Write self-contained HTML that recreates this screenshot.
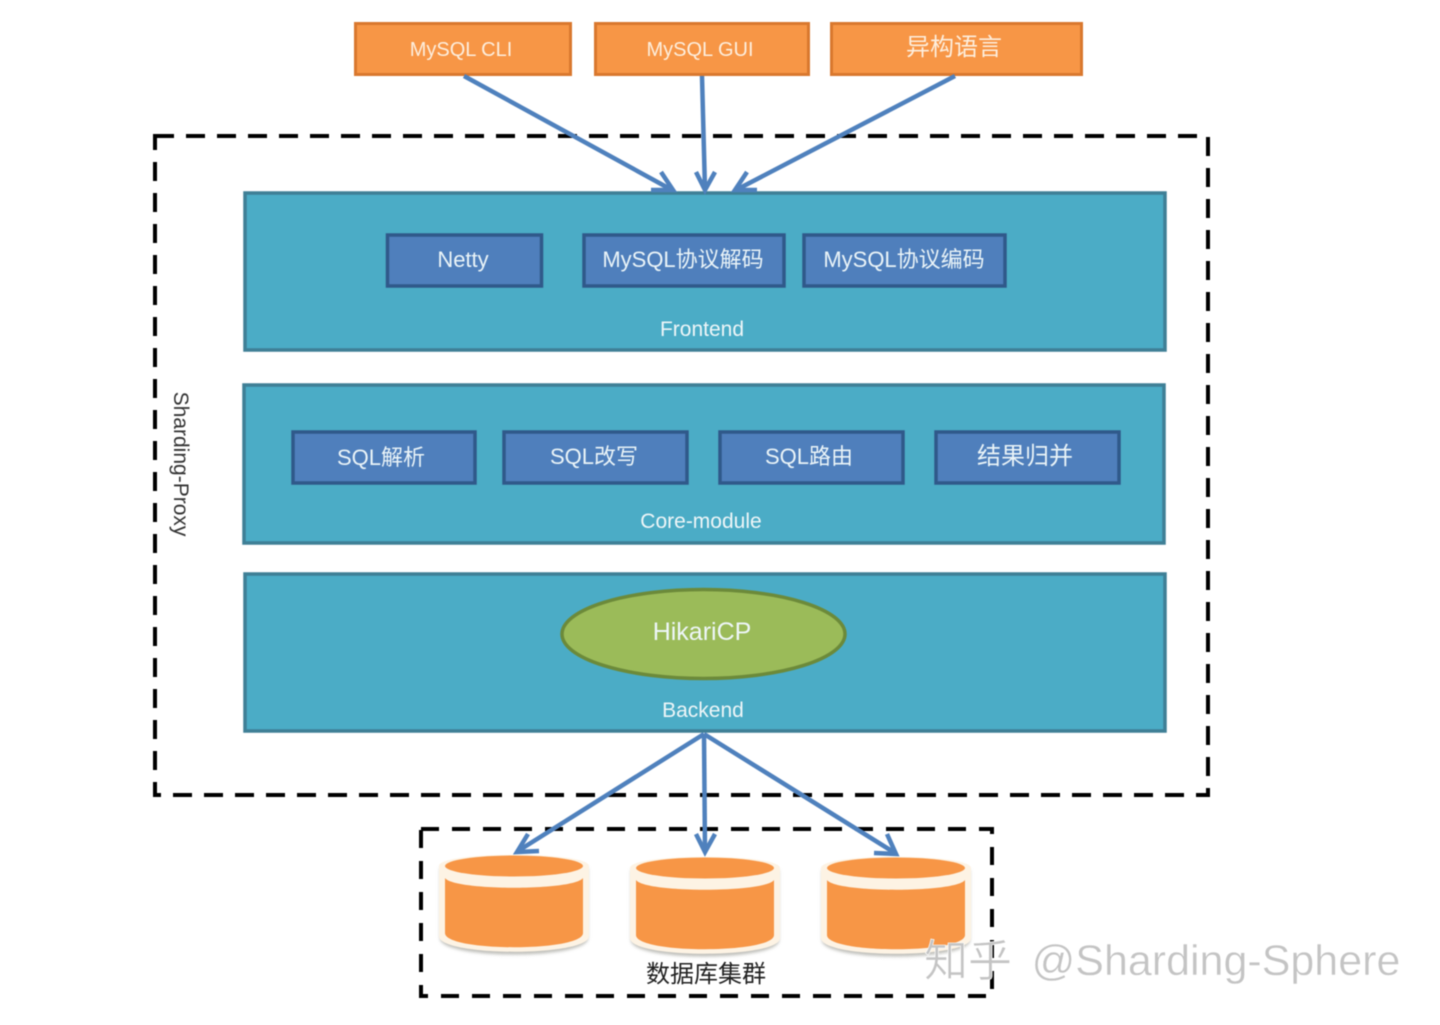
<!DOCTYPE html>
<html>
<head>
<meta charset="utf-8">
<style>
html,body{margin:0;padding:0;background:#fff;width:1440px;height:1025px;overflow:hidden}
svg{display:block;filter:blur(0.5px)}
text{font-family:"Liberation Sans","Noto Sans CJK SC",sans-serif;text-anchor:middle}
.w{fill:#eef6f8;font-size:22px}
.o{fill:#fdeedd;font-size:22px}
.b{fill:#eaf4f8;font-size:22px}
</style>
</head>
<body>
<svg width="1440" height="1025" viewBox="0 0 1440 1025" xmlns="http://www.w3.org/2000/svg">
<defs>
<filter id="sh" x="-10%" y="-10%" width="120%" height="125%"><feGaussianBlur stdDeviation="1.500"/></filter>
<g id="cyl">
  <path d="M-74 -32 V38 C-74 60 74 60 74 38 V-32 Z" fill="#bdbdb8" filter="url(#sh)" transform="translate(0,2)"/>
  <path d="M-75 -32 V38 C-75 59 75 59 75 38 V-32 C75 -47 -75 -47 -75 -32 Z" fill="#fdf3e4"/>
  <path d="M-69 -20 C-60 -7 60 -7 69 -20 V35 C69 54 -69 54 -69 35 Z" fill="#f79646"/>
  <ellipse cx="0" cy="-32" rx="69" ry="10.500" fill="#f79646"/>
</g>
</defs>

<!-- outer dashed -->
<rect x="155" y="136" width="1053" height="659" fill="none" stroke="#000" stroke-width="4" stroke-dasharray="19 12"/>
<!-- db dashed -->
<rect x="421" y="829" width="571" height="167" fill="none" stroke="#000" stroke-width="4" stroke-dasharray="18 13"/>

<!-- top boxes -->
<g stroke="#d9782e" stroke-width="3" fill="#f79646">
<rect x="355.500" y="23.500" width="215" height="51"/>
<rect x="595.500" y="23.500" width="213" height="51"/>
<rect x="831.500" y="23.500" width="250" height="51"/>
</g>
<text class="o" x="461" y="56" style="font-size:20px">MySQL CLI</text>
<text class="o" x="700" y="56" style="font-size:20px">MySQL GUI</text>
<text class="o" x="954" y="55" style="font-size:24px">异构语言</text>

<!-- layers -->
<g stroke="#3f7f96" stroke-width="3.500" fill="#4bacc6">
<rect x="245" y="193" width="920" height="157"/>
<rect x="244" y="385" width="920" height="158"/>
<rect x="245" y="574" width="920" height="157"/>
</g>

<!-- arrows top -->
<g stroke="#4f81bd" stroke-width="4.500" fill="none" stroke-linejoin="miter">
<path d="M464 76 L672 190"/>
<path d="M651 190 L673 190 L661 172"/>
<path d="M702 76 L705 190"/>
<path d="M696 172 L705 190 L715 172"/>
<path d="M955 76 L736 190"/>
<path d="M747 172 L735 190 L757 190"/>
</g>

<!-- inner blue boxes -->
<g stroke="#30598a" stroke-width="3.500" fill="#4f7fbc">
<rect x="387.500" y="235" width="154" height="51"/>
<rect x="584" y="235" width="200" height="51"/>
<rect x="804" y="235" width="201" height="51"/>
<rect x="293" y="432" width="182" height="51"/>
<rect x="504" y="432" width="183" height="51"/>
<rect x="720" y="432" width="183" height="51"/>
<rect x="936" y="432" width="183" height="51"/>
</g>
<text class="b" x="463" y="267">Netty</text>
<text class="b" x="683" y="267">MySQL协议解码</text>
<text class="b" x="904" y="267">MySQL协议编码</text>
<text class="b" x="381" y="465">SQL解析</text>
<text class="b" x="594" y="464">SQL改写</text>
<text class="b" x="809" y="464">SQL路由</text>
<text class="b" x="1025" y="464" style="font-size:24px">结果归并</text>
<text class="w" x="702" y="336" style="font-size:21px">Frontend</text>
<text class="w" x="701" y="528" style="font-size:21px">Core-module</text>
<text class="w" x="703" y="717" style="font-size:21px">Backend</text>

<!-- ellipse -->
<ellipse cx="703.500" cy="634" rx="141.500" ry="44.500" fill="#9bbb59" stroke="#6c8a3a" stroke-width="3.500"/>
<text class="w" x="702" y="640" style="font-size:25px">HikariCP</text>

<!-- side label -->
<text x="0" y="0" transform="translate(174,464) rotate(90)" fill="#333" style="font-size:21px">Sharding-Proxy</text>

<!-- cylinders -->
<use href="#cyl" x="514" y="898"/>
<use href="#cyl" x="705" y="900"/>
<use href="#cyl" x="896" y="900"/>

<!-- arrows bottom -->
<g stroke="#4f81bd" stroke-width="4.500" fill="none">
<path d="M704 734 L518 851"/>
<path d="M528 834 L517 852 L539 851"/>
<path d="M704 734 L705 851"/>
<path d="M696 834 L705 852 L715 834"/>
<path d="M704 734 L895 853"/>
<path d="M887 834 L896 854 L874 853"/>
</g>

<text x="706" y="982" fill="#222" style="font-size:24px">数据库集群</text>

<!-- watermark -->
<text x="968" y="976" fill="#c4c4c4" stroke="#fff" stroke-width="0.600" style="font-size:44px">知乎</text>
<text x="1216" y="975" fill="#c4c4c4" stroke="#fff" stroke-width="0.400" style="font-size:43px">@Sharding-Sphere</text>
</svg>
</body>
</html>
